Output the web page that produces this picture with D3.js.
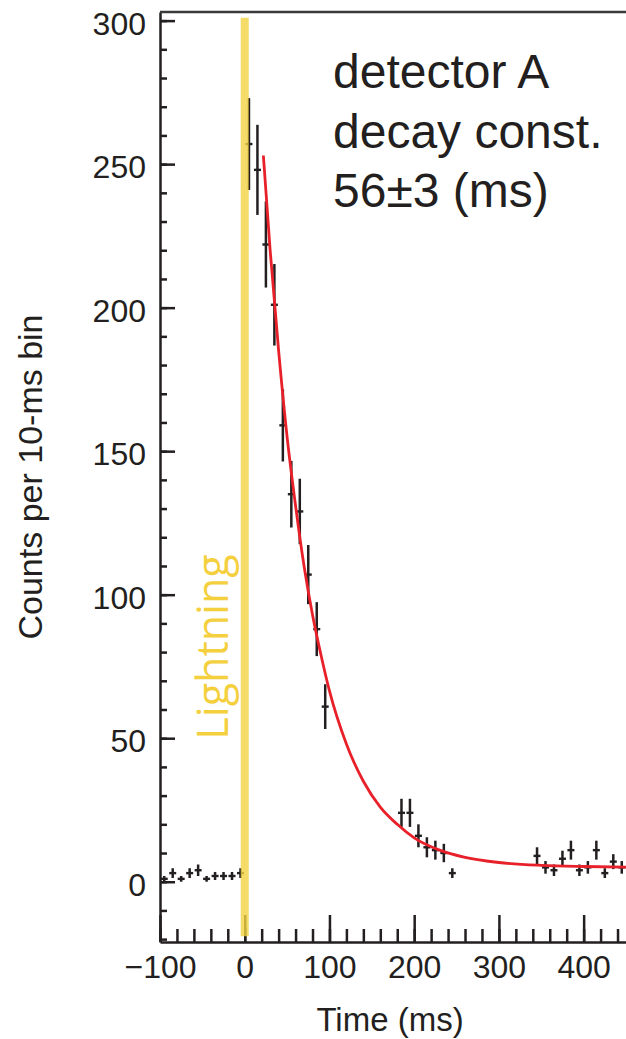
<!DOCTYPE html>
<html>
<head>
<meta charset="utf-8">
<script src="https://cdn.jsdelivr.net/npm/d3@7"></script>
<style>
  body { margin: 0; background: #fff; }
  text { font-family: "Liberation Sans", Arial, Helvetica, sans-serif; fill: #231f20; }
</style>
</head>
<body>
<div class="canva"></div>
<script>
// bin centres (ms), counts per 10-ms bin and their error bars
const binTimes = [-95, -85, -75, -65, -55, -45, -35, -25, -15, -5,
                  5, 15, 25, 35, 45, 55, 65, 75, 85, 95,
                  185, 195, 205, 215, 225, 235, 245,
                  345, 355, 365, 375, 385, 395, 405, 415, 425, 435, 445];
const counts = [1, 3, 1, 3, 4, 1, 2, 2, 2, 3,
                257, 248, 222, 201, 159, 135, 129, 107, 88, 61,
                24, 24, 16, 12, 11, 10, 3,
                9, 5, 4, 8, 11, 4, 5, 11, 3, 7, 5];
const countErrors = [1, 1.7, 1, 1.7, 2, 1, 1.4, 1.4, 1.4, 1.7,
                     16, 15.7, 15, 14.2, 12.6, 11.6, 11.4, 10.3, 9.4, 7.8,
                     4.9, 4.9, 4, 3.5, 3.3, 3.2, 1.7,
                     3, 2.2, 2, 2.8, 3.3, 2, 2.2, 3.3, 1.7, 2.6, 2.2];

// red fit curve, sampled from the figure
const fitTimes = [22, 30, 40, 50, 60, 70, 80, 90, 100, 120, 140, 160, 180, 200, 230, 260, 300, 350, 400, 450];
const fitCounts = [253, 220, 185, 155, 131, 110, 93, 79, 66.5, 48, 35, 26, 20, 15.3, 11, 8.5, 6.7, 5.7, 5.3, 5.1];

const lightningTime = 0;
const xMajorTicks = [-100, 0, 100, 200, 300, 400];
const yMajorTicks = [0, 50, 100, 150, 200, 250, 300];
const annotation = ["detector A", "decay const.", "56±3 (ms)"];

const width = 626;
const height = 1039;

const svg = d3.select(".canva").append("svg")
    .attr("width", width)
    .attr("height", height);

const x = d3.scaleLinear().domain([-100, 450]).range([160, 626]);
const y = d3.scaleLinear().domain([-21, 303]).range([942, 12]);

const ink = "#231f20";

// minor ticks
svg.append("g")
    .attr("transform", `translate(0, ${y(-21)})`)
    .call(d3.axisBottom(x).tickValues(d3.range(-100, 451, 20)).tickSize(-13).tickSizeOuter(0).tickFormat(""))
    .call(g => g.select(".domain").remove());
svg.append("g")
    .attr("transform", `translate(${x(-100)}, 0)`)
    .call(d3.axisLeft(y).tickValues(d3.range(-20, 301, 10)).tickSize(-7).tickSizeOuter(0).tickFormat(""))
    .call(g => g.select(".domain").remove());

// major ticks + labels
const xAxis = svg.append("g")
    .attr("transform", `translate(0, ${y(-21)})`)
    .call(d3.axisBottom(x).tickValues(xMajorTicks).tickSize(-27).tickSizeOuter(0).tickPadding(13));
const yAxis = svg.append("g")
    .attr("transform", `translate(${x(-100)}, 0)`)
    .call(d3.axisLeft(y).tickValues(yMajorTicks).tickSize(-15).tickSizeOuter(0).tickPadding(14));

svg.selectAll(".tick line").attr("stroke", ink).attr("stroke-width", 2.5);
svg.selectAll(".domain").attr("stroke", ink).attr("stroke-width", 2.5);
xAxis.selectAll("text").attr("font-size", 32).attr("fill", ink);
yAxis.selectAll("text").attr("font-size", 32).attr("fill", ink).attr("dy", "0.42em");

// top frame line
svg.append("line")
    .attr("x1", x(-100)).attr("x2", width)
    .attr("y1", y(303)).attr("y2", y(303))
    .attr("stroke", "#3a3a3a")
    .attr("stroke-width", 2.5);

// data points with error bars
const points = svg.append("g").selectAll("g")
    .data(binTimes.map((t, i) => ({t: t, c: counts[i], e: countErrors[i]})))
    .enter().append("g");

points.append("line")
    .attr("x1", d => x(d.t)).attr("x2", d => x(d.t))
    .attr("y1", d => y(d.c - d.e)).attr("y2", d => y(d.c + d.e))
    .attr("stroke", ink).attr("stroke-width", 2.5);
points.append("line")
    .attr("x1", d => x(d.t) - 3.5).attr("x2", d => x(d.t) + 3.5)
    .attr("y1", d => y(d.c)).attr("y2", d => y(d.c))
    .attr("stroke", ink).attr("stroke-width", 2.4);

// fit
const fitLine = d3.line()
    .x((d, i) => x(fitTimes[i]))
    .y(d => y(d))
    .curve(d3.curveMonotoneX);

svg.append("path")
    .datum(fitCounts)
    .attr("d", fitLine)
    .attr("fill", "none")
    .attr("stroke", "#e8202a")
    .attr("stroke-width", 2.8);

// lightning band
svg.append("rect")
    .attr("x", x(lightningTime) - 4)
    .attr("width", 8)
    .attr("y", y(301))
    .attr("height", y(-19) - y(301))
    .attr("fill", "#f3d241")
    .attr("opacity", 0.8);

svg.append("text")
    .attr("transform", `translate(228, 647) rotate(-90)`)
    .attr("text-anchor", "middle")
    .attr("font-size", 43)
    .style("font-family", "'Open Sans', sans-serif")
    .style("fill", "#f4d03f")
    .text("Lightning");

// annotation
svg.append("g").selectAll("text")
    .data(annotation)
    .enter().append("text")
    .attr("x", 333)
    .attr("y", (d, i) => 88 + i * 59.5)
    .attr("font-size", 48)
    .text(d => d);

// axis titles
svg.append("text")
    .attr("x", 390)
    .attr("y", 1031)
    .attr("text-anchor", "middle")
    .attr("font-size", 33)
    .text("Time (ms)");

svg.append("text")
    .attr("transform", `translate(42, 477) rotate(-90)`)
    .attr("text-anchor", "middle")
    .attr("font-size", 34)
    .text("Counts per 10-ms bin");
</script>
</body>
</html>
